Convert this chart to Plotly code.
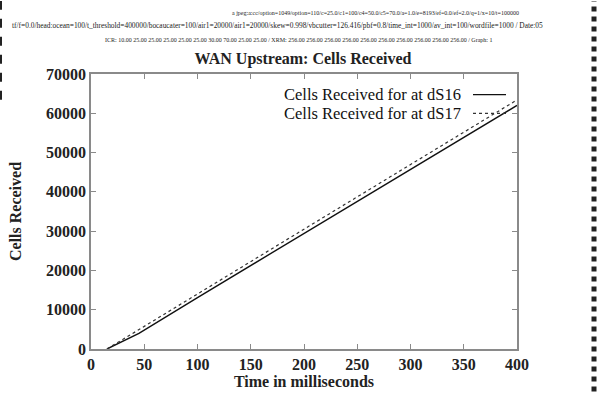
import plotly.graph_objects as go

# Cells received over time for the two downstream stations
time_ds16 = [15, 45, 100, 200, 300, 400]
cells_ds16 = [0, 4000, 13100, 29400, 45700, 62000]

time_ds17 = [15, 45, 100, 200, 300, 400]
cells_ds17 = [0, 4900, 14000, 30500, 47000, 63400]

series_names = ["Cells Received for at dS16", "Cells Received for at dS17"]

x_ticks = [0, 50, 100, 150, 200, 250, 300, 350, 400]
y_ticks = [0, 10000, 20000, 30000, 40000, 50000, 60000, 70000]

header_lines = [
    "a jpeg:a:cc/option=1049/option=110/c=25.0/c1=100/c4=50.0/c5=70.0/a=1.0/e=8193/ef=0.0/ef=2.0/q=1/x=10/t=100000",
    "tf/f=0.0/head:ocean=100/t_threshold=400000/bocaucater=100/air1=20000/air1=20000/skew=0.998/vbcutter=126.416/pbf=0.8/time_int=1000/av_int=100/wordfile=1000 / Date:05",
    "ICR: 10.00 25.00 25.00 25.00 25.00 25.00 30.00 70.00 25.00 25.00 / XRM: 256.00 256.00 256.00 256.00 256.00 256.00 256.00 256.00 256.00 256.00 / Graph: 1",
]

SERIF = "Liberation Serif"

fig = go.Figure()
fig.add_trace(go.Scatter(x=time_ds16, y=cells_ds16, mode="lines",
                         name=series_names[0], showlegend=False,
                         line=dict(color="#111111", width=1.4)))
fig.add_trace(go.Scatter(x=time_ds17, y=cells_ds17, mode="lines",
                         name=series_names[1], showlegend=False,
                         line=dict(color="#333333", width=1.2, dash="dot")))

axis_common = dict(
    showline=True, linecolor="#8a8a8a", linewidth=1.5, mirror="ticks",
    ticks="inside", ticklen=5, tickcolor="#8a8a8a", tickwidth=1,
    showgrid=False, zeroline=False,
    tickfont=dict(family=SERIF, size=16, color="#222222"),
)

fig.update_xaxes(range=[0, 400], tickvals=x_ticks,
                 ticktext=[f"<b>{v}</b>" for v in x_ticks],
                 title=dict(text="<b>Time in milliseconds</b>", standoff=0,
                            font=dict(family=SERIF, size=16, color="#222222")),
                 **axis_common)
fig.update_yaxes(range=[0, 70000], tickvals=y_ticks,
                 ticktext=[f"<b>{v}</b>" for v in y_ticks],
                 title=dict(text="<b>Cells Received</b>", standoff=20,
                            font=dict(family=SERIF, size=16, color="#222222")),
                 **axis_common)


def px_x(x):
    return (x - 91) / 426


def px_y(y):
    return (353 - y) / 279


annotations = []
# header lines of run parameters
header_pos = [(375, 12, "center", 6), (10, 25, "left", 7.4), (299, 40, "center", 6)]
for txt, (xpx, ypx, anchor, size) in zip(header_lines, header_pos):
    annotations.append(dict(text=txt, xref="paper", yref="paper",
                            x=px_x(xpx), y=px_y(ypx),
                            xanchor=anchor, yanchor="middle", showarrow=False,
                            font=dict(family=SERIF, size=size, color="#222222")))

# legend entries with the line sample on the right
legend_y = [95, 114]
dashes = ["solid", "dot"]
colors = ["#111111", "#333333"]
shapes = []
for name, ypx, dsh, col in zip(series_names, legend_y, dashes, colors):
    yp = px_y(ypx)
    annotations.append(dict(text=name, xref="paper", yref="paper",
                            x=px_x(463), y=yp, xanchor="right",
                            yanchor="middle", showarrow=False,
                            font=dict(family=SERIF, size=16.5, color="#111111")))
    shapes.append(dict(type="line", xref="paper", yref="paper",
                       x0=px_x(473), x1=px_x(506), y0=yp, y1=yp,
                       line=dict(color=col, width=1.2, dash=dsh)))

# scanned page edge marks
shapes.append(dict(type="line", xref="paper", yref="paper",
                   x0=px_x(594), x1=px_x(594), y0=px_y(396), y1=px_y(0),
                   line=dict(color="#222222", width=5, dash="dot")))
shapes.append(dict(type="line", xref="paper", yref="paper",
                   x0=px_x(1), x1=px_x(1), y0=px_y(100), y1=px_y(0),
                   line=dict(color="#222222", width=2, dash="dash")))

fig.update_layout(
    width=598, height=396,
    margin=dict(l=91, r=81, t=74, b=43),
    paper_bgcolor="white", plot_bgcolor="white",
    title=dict(text="<b>WAN Upstream: Cells Received</b>", x=303 / 598,
               xanchor="center", y=1 - 58 / 396, yanchor="middle",
               font=dict(family=SERIF, size=16, color="#222222")),
    annotations=annotations, shapes=shapes,
)

fig.write_html("out.html")
